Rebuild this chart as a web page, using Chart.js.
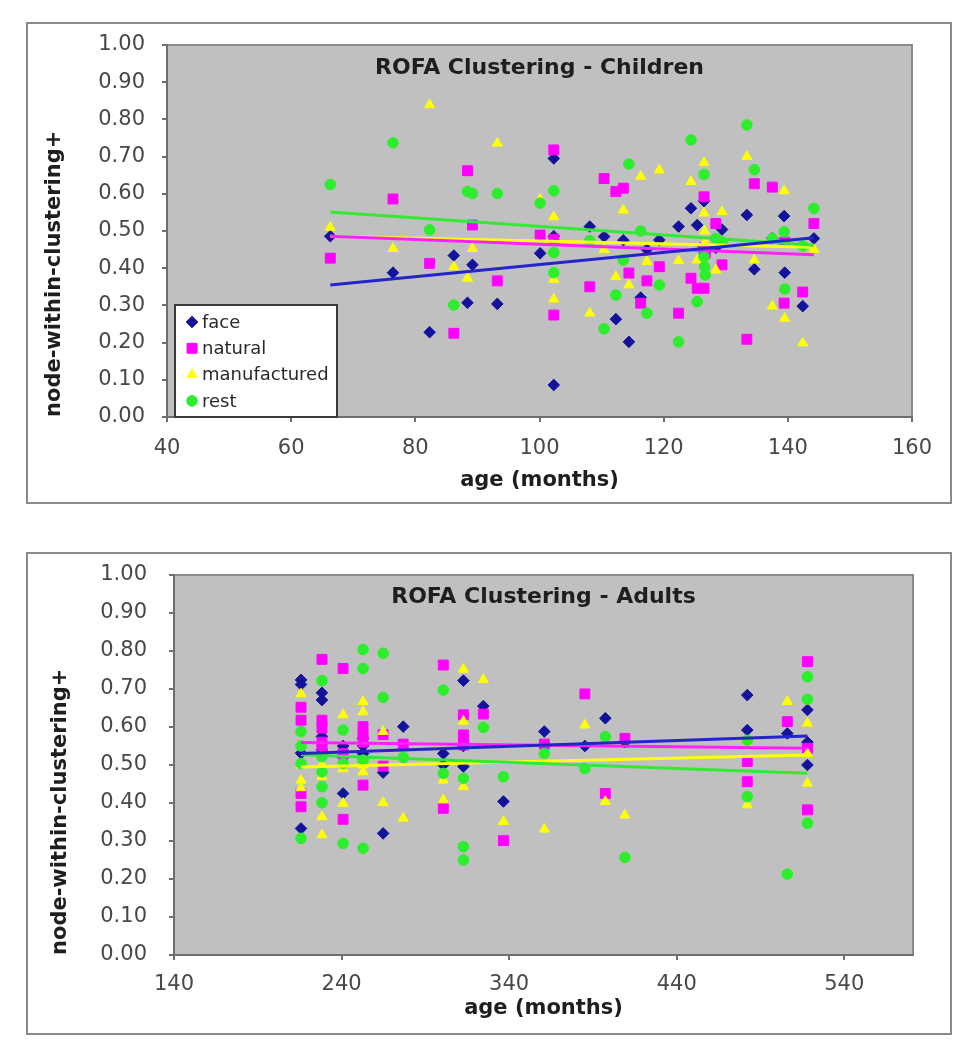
<!DOCTYPE html>
<html>
<head>
<meta charset="utf-8">
<title>ROFA Clustering</title>
<script src="https://cdn.jsdelivr.net/npm/chart.js@4.4.1/dist/chart.umd.min.js"></script>
<style>
  body { margin: 0; background: #fff; }
  .box { position: absolute; left: 26px; width: 922px; border: 2px solid #8a8a8a; background: #fff; }
  #box-children { top: 22px; height: 478px; }
  #box-adults { top: 552px; height: 479px; }
  .box canvas { display: block; }
</style>
</head>
<body>
<div class="box" id="box-children"><canvas id="chartChildren"></canvas></div>
<div class="box" id="box-adults"><canvas id="chartAdults"></canvas></div>
<script>
// Datos (edad en meses, node-within-clustering+)

// Niños
const childAges = [66.3, 76.4, 82.3, 86.2, 88.4, 89.2, 93.2, 100.1, 102.3, 102.3, 102.3, 108.1,
  110.4, 112.3, 113.5, 114.4, 116.3, 117.3, 119.3, 122.4, 124.4, 125.4, 126.5, 126.5, 126.6,
  126.7, 128.4, 129.4, 133.4, 134.6, 137.5, 139.4, 139.5, 142.4, 144.2];
const childFace = [0.486, 0.388, 0.228, 0.434, 0.307, 0.409, 0.304, 0.44, 0.695, 0.486, 0.086, 0.512,
  0.485, 0.263, 0.475, 0.202, 0.321, 0.45, 0.476, 0.512, 0.561, 0.516, 0.458, 0.58, 0.44,
  0.46, 0.455, 0.504, 0.543, 0.397, 0.48, 0.54, 0.388, 0.298, 0.48];
const childNatural = [0.427, 0.586, 0.413, 0.225, 0.662, 0.516, 0.366, 0.489, 0.718, 0.478, 0.274, 0.35,
  0.641, 0.606, 0.615, 0.387, 0.306, 0.366, 0.404, 0.279, 0.373, 0.346, 0.592, 0.346, 0.455,
  0.44, 0.52, 0.409, 0.209, 0.627, 0.618, 0.306, 0.47, 0.336, 0.52];
const childManufactured = [0.51, 0.453, 0.839, 0.404, 0.373, 0.453, 0.736, 0.585, 0.538, 0.37, 0.317, 0.279,
  0.45, 0.377, 0.556, 0.355, 0.647, 0.418, 0.664, 0.42, 0.633, 0.422, 0.684, 0.548, 0.5,
  0.47, 0.395, 0.552, 0.7, 0.422, 0.298, 0.608, 0.265, 0.199, 0.45];
const childRest = [0.625, 0.737, 0.503, 0.301, 0.606, 0.601, 0.601, 0.575, 0.608, 0.442, 0.388, 0.474,
  0.237, 0.328, 0.422, 0.68, 0.5, 0.279, 0.355, 0.202, 0.745, 0.31, 0.652, 0.431, 0.404,
  0.382, 0.48, 0.47, 0.785, 0.665, 0.48, 0.498, 0.344, 0.46, 0.561];

// Lineas de tendencia (extremos)
const childTrendAges = [66.3, 144.2];
const childFaceTrend = [0.355, 0.482];
const childNaturalTrend = [0.486, 0.436];
const childManufacturedTrend = [0.486, 0.456];
const childRestTrend = [0.551, 0.462];

// Adultos
const adultAges = [215.8, 215.8, 215.8, 215.8, 228.3, 228.3, 228.3, 228.3, 228.3, 240.9, 240.9, 240.9,
  252.8, 252.8, 252.8, 252.8, 264.8, 264.8, 276.8, 300.7, 300.7, 312.7, 312.7, 312.7, 324.6,
  336.6, 361, 385.2, 397.4, 409.1, 482.1, 482.1, 506, 518, 518, 518];
const adultFace = [0.724, 0.531, 0.333, 0.712, 0.69, 0.671, 0.575, 0.53, 0.54, 0.425, 0.52, 0.55,
  0.57, 0.53, 0.52, 0.55, 0.32, 0.48, 0.601, 0.53, 0.5, 0.722, 0.496, 0.55, 0.655,
  0.404, 0.588, 0.55, 0.623, 0.56, 0.684, 0.592, 0.583, 0.645, 0.5, 0.56];
const adultNatural = [0.652, 0.618, 0.425, 0.39, 0.778, 0.618, 0.597, 0.55, 0.56, 0.754, 0.357, 0.53,
  0.601, 0.447, 0.56, 0.58, 0.497, 0.58, 0.555, 0.763, 0.386, 0.632, 0.579, 0.553, 0.634,
  0.301, 0.555, 0.687, 0.425, 0.57, 0.509, 0.456, 0.614, 0.772, 0.544, 0.382];
const adultManufactured = [0.687, 0.46, 0.44, 0.5, 0.364, 0.316, 0.5, 0.47, 0.49, 0.632, 0.399, 0.49,
  0.667, 0.64, 0.482, 0.5, 0.588, 0.401, 0.36, 0.408, 0.46, 0.752, 0.615, 0.443, 0.725,
  0.351, 0.331, 0.605, 0.404, 0.368, 0.395, 0.55, 0.667, 0.61, 0.452, 0.53];
const adultRest = [0.588, 0.504, 0.307, 0.55, 0.722, 0.522, 0.443, 0.401, 0.482, 0.592, 0.504, 0.294,
  0.804, 0.754, 0.513, 0.281, 0.794, 0.678, 0.52, 0.697, 0.478, 0.465, 0.285, 0.25, 0.599,
  0.469, 0.53, 0.491, 0.575, 0.257, 0.417, 0.565, 0.213, 0.732, 0.673, 0.347];

const adultTrendAges = [215.8, 518];
const adultFaceTrend = [0.53, 0.576];
const adultNaturalTrend = [0.559, 0.544];
const adultManufacturedTrend = [0.495, 0.526];
const adultRestTrend = [0.527, 0.478];

// Etiquetas de los ejes
const childXTicks = [40, 60, 80, 100, 120, 140, 160];
const adultXTicks = [140, 240, 340, 440, 540];
const yTicks = [0, 0.1, 0.2, 0.3, 0.4, 0.5, 0.6, 0.7, 0.8, 0.9, 1.0];

const seriesNames = ["face", "natural", "manufactured", "rest"];

// Estilo de cada serie (como Excel); ordenLinea: menor = dibujada encima
const estilos = [
  { color: "#12129a", linea: "#2424c8", punto: "rectRot", radio: 5.8, ordenLinea: 0 },
  { color: "#ff00ff", linea: "#ff22ff", punto: "rect", radio: 7, ordenLinea: 1 },
  { color: "#ffff00", linea: "#ffff10", punto: "triangle", radio: 5.8, ordenLinea: 3 },
  { color: "#2cee2c", linea: "#36e836", punto: "circle", radio: 5.3, ordenLinea: 2 },
];

Chart.defaults.font.family = "'DejaVu Sans', sans-serif";
Chart.defaults.animation = false;

function puntos(xs, ys) {
  return xs.map((x, i) => ({ x: x, y: ys[i] }));
}

// Fondo gris del area de grafico
const fondoPlot = {
  id: "fondoPlot",
  beforeDraw(chart) {
    const { ctx, chartArea: a } = chart;
    ctx.save();
    ctx.fillStyle = "#c0c0c0";
    ctx.fillRect(a.left, a.top, a.right - a.left, a.bottom - a.top);
    ctx.strokeStyle = "#8a8a8a";
    ctx.lineWidth = 2;
    ctx.strokeRect(a.left, a.top, a.right - a.left, a.bottom - a.top);
    ctx.restore();
  },
};

// Titulo dentro del area de grafico
const tituloInterior = {
  id: "tituloInterior",
  afterDraw(chart, args, opts) {
    const { ctx, chartArea: a } = chart;
    ctx.save();
    ctx.font = "bold 22px 'DejaVu Sans', sans-serif";
    ctx.fillStyle = "#1e1e1e";
    ctx.textAlign = "center";
    ctx.textBaseline = "middle";
    ctx.fillText(opts.text, (a.left + a.right) / 2, a.top + opts.dy);
    ctx.restore();
  },
};

// Leyenda en recuadro blanco abajo a la izquierda
const leyendaCaja = {
  id: "leyendaCaja",
  afterDraw(chart, args, opts) {
    if (!opts.display) return;
    const { ctx, chartArea: a } = chart;
    const x0 = a.left + 8, y0 = a.bottom - 112, w = 162, h = 112;
    ctx.save();
    ctx.fillStyle = "#ffffff";
    ctx.fillRect(x0, y0, w, h);
    ctx.strokeStyle = "#3a3a3a";
    ctx.lineWidth = 2;
    ctx.strokeRect(x0, y0, w, h);
    ctx.font = "18px 'DejaVu Sans', sans-serif";
    ctx.textBaseline = "middle";
    seriesNames.forEach((nombre, i) => {
      const cy = y0 + 17 + i * 26.3;
      const e = estilos[i];
      ctx.fillStyle = e.color;
      ctx.strokeStyle = e.color;
      ctx.lineWidth = 1;
      Chart.helpers.drawPoint(ctx, { pointStyle: e.punto, radius: e.radio, borderWidth: 1, rotation: 0 }, x0 + 17, cy);
      ctx.fillStyle = "#2a2a2a";
      ctx.fillText(nombre, x0 + 27, cy + 1);
    });
    ctx.restore();
  },
};

function crearGrafico(id, cfg) {
  const valores = [cfg.face, cfg.natural, cfg.manufactured, cfg.rest];
  const tendencias = [cfg.faceTrend, cfg.naturalTrend, cfg.manufacturedTrend, cfg.restTrend];
  const datasets = [];

  // puntos: la ultima serie (rest) queda encima, como en Excel
  valores.forEach((ys, i) => {
    const e = estilos[i];
    datasets.push({
      type: "scatter",
      label: seriesNames[i],
      data: puntos(cfg.ages, ys),
      pointStyle: e.punto,
      pointRadius: e.radio,
      backgroundColor: e.color,
      borderColor: e.color,
      borderWidth: 1,
      order: 8 - i,
    });
  });

  // lineas de tendencia lineales, encima de los puntos
  tendencias.forEach((ys, i) => {
    datasets.push({
      type: "line",
      label: seriesNames[i] + " trend",
      data: puntos(cfg.trendAges, ys),
      borderColor: estilos[i].linea,
      borderWidth: 3,
      pointRadius: 0,
      fill: false,
      order: estilos[i].ordenLinea,
    });
  });

  const tickFont = { size: 21 };
  const titleFont = { size: 21, weight: "bold" };

  return new Chart(document.getElementById(id), {
    type: "scatter",
    data: { datasets: datasets },
    options: {
      responsive: true,
      maintainAspectRatio: false,
      layout: { padding: cfg.padding },
      plugins: {
        legend: { display: false },
        tooltip: { enabled: false },
        tituloInterior: { text: cfg.title, dy: cfg.titleDy },
        leyendaCaja: { display: cfg.legend },
      },
      scales: {
        x: {
          type: "linear",
          min: cfg.xMin,
          max: cfg.xMax,
          afterBuildTicks: (s) => { s.ticks = cfg.xTicks.map((v) => ({ value: v })); },
          afterFit: (s) => {
            s.height = cfg.xHeight;
            s.paddingLeft = 0;
            s.paddingRight = 0;
          },
          ticks: { font: tickFont, color: "#484848", padding: cfg.xTickPad, maxRotation: 0, autoSkip: false },
          grid: { display: true, drawOnChartArea: false, drawTicks: true, tickLength: 5, color: "#6e6e6e", lineWidth: 2 },
          border: { display: true, color: "#6e6e6e", width: 2 },
          title: { display: true, text: "age (months)", font: titleFont, color: "#1e1e1e", padding: { top: 0, bottom: cfg.xTitlePad } },
        },
        y: {
          type: "linear",
          min: 0,
          max: 1,
          afterBuildTicks: (s) => { s.ticks = yTicks.map((v) => ({ value: v })); },
          afterFit: (s) => {
            s.width = cfg.yWidth;
            s.paddingTop = 0;
            s.paddingBottom = 0;
          },
          ticks: { font: tickFont, color: "#484848", padding: cfg.yTickPad, callback: (v) => Number(v).toFixed(2) },
          grid: { display: true, drawOnChartArea: false, drawTicks: true, tickLength: 5, color: "#6e6e6e", lineWidth: 2 },
          border: { display: true, color: "#6e6e6e", width: 2 },
          title: {
            display: true,
            text: "node-within-clustering+",
            align: "start",
            font: titleFont,
            color: "#1e1e1e",
            padding: { top: cfg.yTitlePad, bottom: 0 },
          },
        },
      },
    },
    plugins: [fondoPlot, tituloInterior, leyendaCaja],
  });
}

crearGrafico("chartChildren", {
  title: "ROFA Clustering - Children",
  titleDy: 23,
  legend: true,
  ages: childAges,
  face: childFace,
  natural: childNatural,
  manufactured: childManufactured,
  rest: childRest,
  trendAges: childTrendAges,
  faceTrend: childFaceTrend,
  naturalTrend: childNaturalTrend,
  manufacturedTrend: childManufacturedTrend,
  restTrend: childRestTrend,
  xMin: 40,
  xMax: 160,
  xTicks: childXTicks,
  padding: { left: 8, top: 21, right: 38, bottom: 0 },
  yWidth: 131,
  xHeight: 85,
  xTickPad: 14,
  yTickPad: 17,
  xTitlePad: 9,
  yTitlePad: 6,
});

crearGrafico("chartAdults", {
  title: "ROFA Clustering - Adults",
  titleDy: 22,
  legend: false,
  ages: adultAges,
  face: adultFace,
  natural: adultNatural,
  manufactured: adultManufactured,
  rest: adultRest,
  trendAges: adultTrendAges,
  faceTrend: adultFaceTrend,
  naturalTrend: adultNaturalTrend,
  manufacturedTrend: adultManufacturedTrend,
  restTrend: adultRestTrend,
  xMin: 140,
  xMax: 581,
  xTicks: adultXTicks,
  padding: { left: 8, top: 21, right: 37, bottom: 0 },
  yWidth: 138,
  xHeight: 78,
  xTickPad: 12,
  yTickPad: 22,
  xTitlePad: 12,
  yTitlePad: 12,
});
</script>
</body>
</html>
